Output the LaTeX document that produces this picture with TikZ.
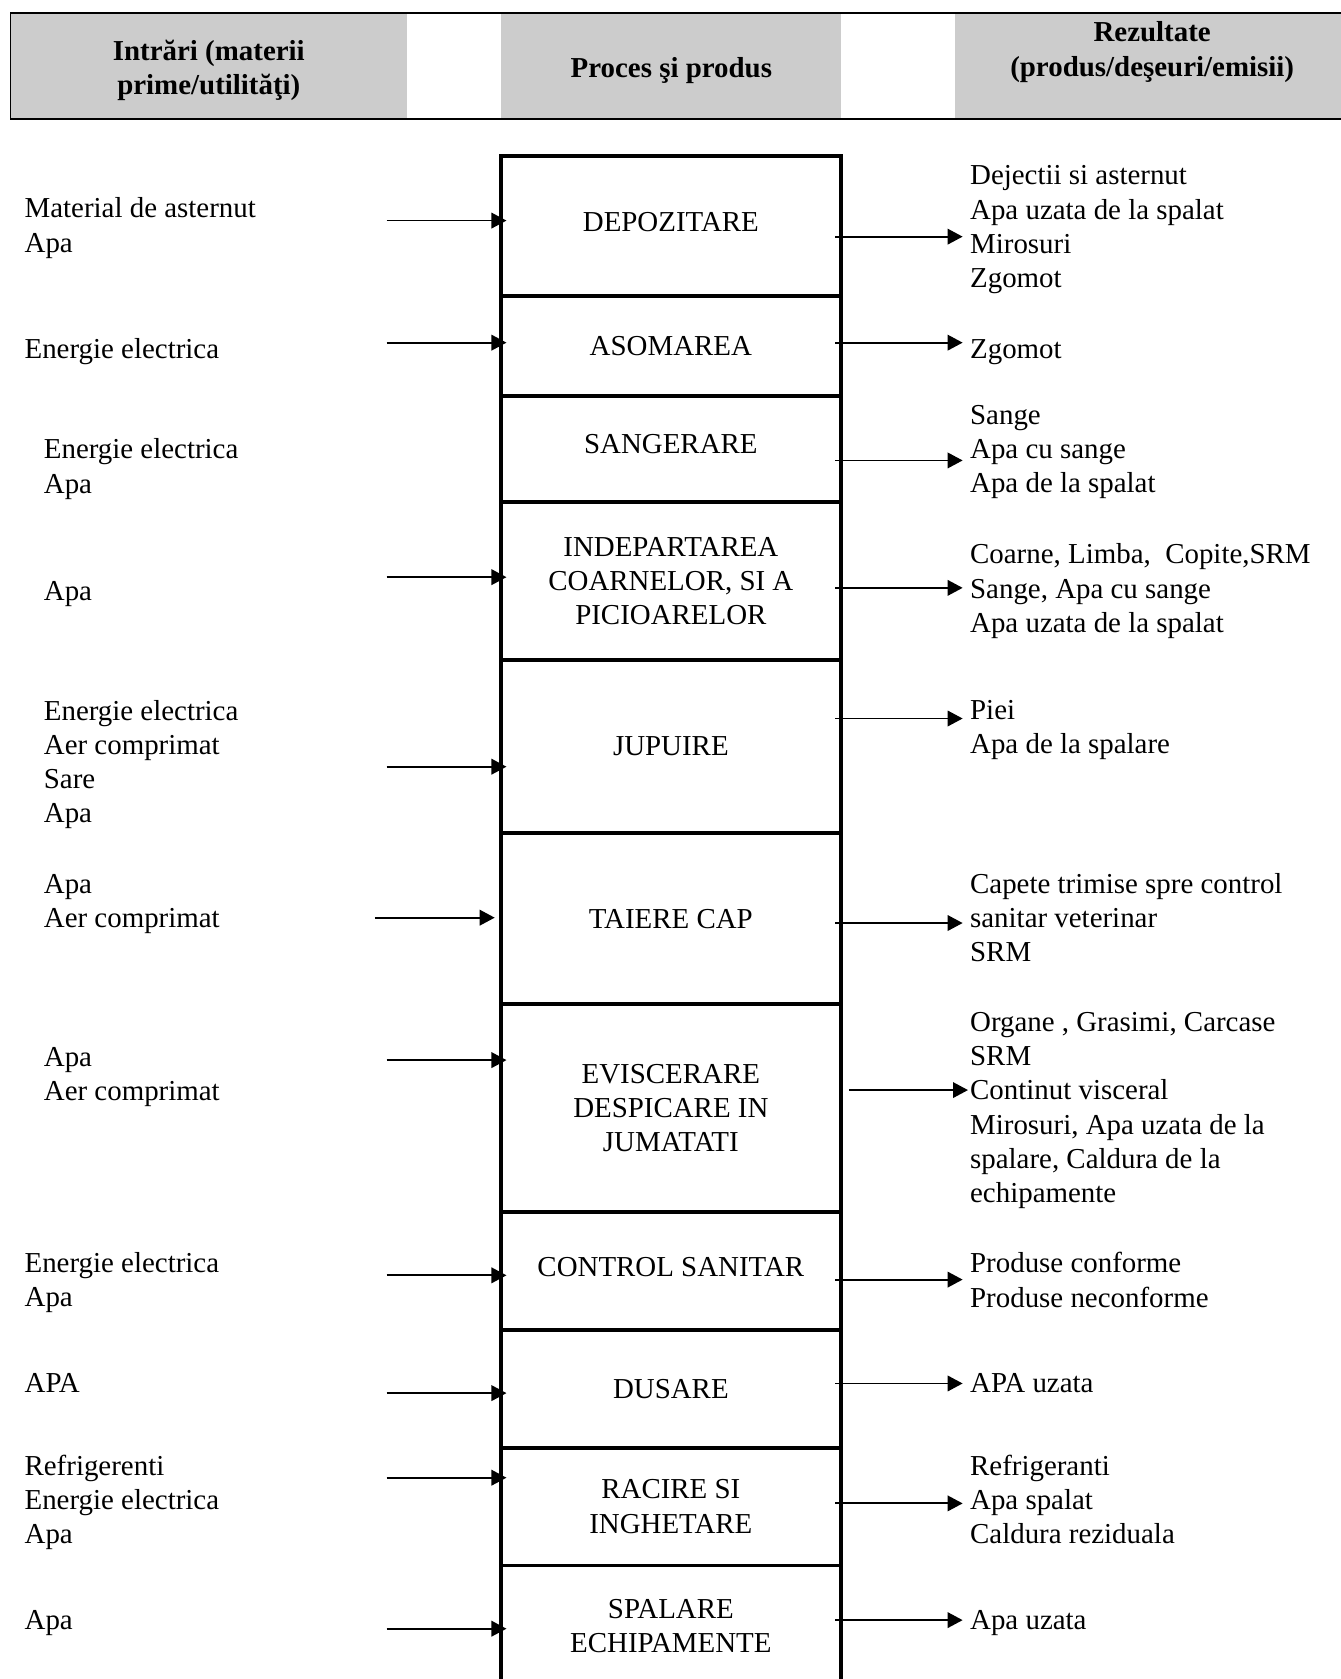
\documentclass[tikz,border=0pt]{standalone}
\usepackage{fontspec}
\setmainfont{Liberation Serif}
\usetikzlibrary{arrows.meta}
\definecolor{hdrgray}{RGB}{204,204,204}
\begin{document}
\begin{tikzpicture}[x=1pt,y=-1pt,
  every node/.style={font=\fontsize{27}{32}\selectfont, inner sep=0pt, outer sep=0pt},
  box/.style={draw, line width=3.7pt, minimum width=317pt, align=center},
  txt/.style={anchor=west, align=left, execute at begin node=\strut, execute at end node=\strut},
  hdr/.style={align=center, font=\fontsize{27}{32}\selectfont\bfseries},
  arr/.style={line width=1.7pt, -{Triangle[length=14pt,width=14.5pt]}},
]
\useasboundingbox (0,0) rectangle (1252,1568);
% header
\fill[hdrgray] (10,12) rectangle (380,111);
\fill[hdrgray] (468,12) rectangle (785,111);
\fill[hdrgray] (892,12) rectangle (1252,111);
\draw[line width=1.4pt] (1253,12) -- (10,12) -- (10,111) -- (1253,111);
\node[hdr] (h1) at (195,66) {Intrări (materii\\prime/utilităţi)};
\node[hdr] (h2) at (627,66) {Proces şi produs};
\node[hdr] (h3) at (1076,48.5) {Rezultate\\(produs/deşeuri/emisii)};
% process boxes
\node[box, minimum height=130pt] (b1) at (626.5,211) {\raisebox{8pt}{DEPOZITARE}};
\node[box, minimum height=94pt] (b2) at (626.5,323) {ASOMAREA};
\node[box, minimum height=99pt] (b3) at (626.5,419.5) {\raisebox{9pt}{SANGERARE}};
\node[box, minimum height=147pt] (b4) at (626.5,542.5) {INDEPARTAREA\\COARNELOR, SI A\\PICIOARELOR};
\node[box, minimum height=162pt] (b5) at (626.5,697) {JUPUIRE};
\node[box, minimum height=160pt] (b6) at (626.5,858) {TAIERE CAP};
\node[box, minimum height=194pt] (b7) at (626.5,1035) {EVISCERARE\\DESPICARE IN\\JUMATATI};
\node[box, minimum height=110pt] (b8) at (626.5,1187) {\raisebox{8pt}{CONTROL SANITAR}};
\node[box, minimum height=110pt] (b9) at (626.5,1297) {DUSARE};
\node[box, minimum height=110pt] (b10) at (626.5,1407) {RACIRE SI\\INGHETARE};
\node[box, minimum height=113pt] (b11) at (626.5,1518.5) {SPALARE\\ECHIPAMENTE};
% input texts
\node[txt] (i1) at (23,215) {Material de asternut\\Apa};
\node[txt] (i2) at (23,328) {Energie electrica};
\node[txt] (i3) at (41,440) {Energie electrica\\Apa};
\node[txt] (i4) at (41,554) {Apa};
\node[txt] (i5) at (41,716) {Energie electrica\\Aer comprimat\\Sare\\Apa};
\node[txt] (i6) at (41,846.5) {Apa\\Aer comprimat};
\node[txt] (i7) at (41,1007.5) {Apa\\Aer comprimat};
\node[txt] (i8) at (23,1200) {Energie electrica\\Apa};
\node[txt] (i9) at (23,1294) {APA};
\node[txt] (i10) at (23,1405) {Refrigerenti\\Energie electrica\\Apa};
\node[txt] (i11) at (23,1515) {Apa};
% output texts
\node[txt] (o1) at (906,216.5) {Dejectii si asternut\\Apa uzata de la spalat\\Mirosuri\\Zgomot};
\node[txt] (o2) at (906,328) {Zgomot};
\node[txt] (o3) at (906,424) {Sange\\Apa cu sange\\Apa de la spalat};
\node[txt] (o4) at (906,554) {Coarne, Limba,\ \ Copite,SRM\\Sange, Apa cu sange\\Apa uzata de la spalat};
\node[txt] (o5) at (906,684) {Piei\\Apa de la spalare};
\node[txt] (o6) at (906,861.5) {Capete trimise spre control\\sanitar veterinar\\SRM};
\node[txt] (o7) at (906,1039) {Organe , Grasimi, Carcase\\SRM\\Continut visceral\\Mirosuri, Apa uzata de la\\spalare, Caldura de la\\echipamente};
\node[txt] (o8) at (906,1200) {Produse conforme\\Produse neconforme};
\node[txt] (o9) at (906,1294) {APA uzata};
\node[txt] (o10) at (906,1405) {Refrigeranti\\Apa spalat\\Caldura reziduala};
\node[txt] (o11) at (906,1515) {Apa uzata};
% input arrow starts
\coordinate (l1) at (361,206);
\coordinate (l2) at (361,320);
\coordinate (l4) at (361,539);
\coordinate (l5) at (361,716);
\coordinate (l6) at (350,857);
\coordinate (l7) at (361,990);
\coordinate (l8) at (361,1191);
\coordinate (l9) at (361,1301);
\coordinate (l10) at (361,1380);
\coordinate (l11) at (361,1521);
% output arrow ends
\coordinate (r1) at (899,221);
\coordinate (r2) at (899,320);
\coordinate (r3) at (899,430);
\coordinate (r4) at (899,549);
\coordinate (r5) at (899,671);
\coordinate (r6) at (899,862);
\coordinate (r7) at (904,1018);
\coordinate (r8) at (899,1195);
\coordinate (r9) at (899,1292);
\coordinate (r10) at (899,1404);
\coordinate (r11) at (899,1513);
% input arrows
\foreach \k in {1,2,4,5,7,8,9,10,11}{
  \draw[arr] (l\k) -- ([xshift=5pt]l\k -| b\k.west);
}
\draw[arr] (l6) -- ([xshift=-6pt]l6 -| b6.west);
% output arrows
\foreach \k in {1,2,3,4,5,6,8,9,10,11}{
  \draw[arr] ([xshift=-5pt]b\k.east |- r\k) -- (r\k);
}
\draw[arr] ([xshift=8pt]b7.east |- r7) -- (r7);
\end{tikzpicture}
\end{document}
